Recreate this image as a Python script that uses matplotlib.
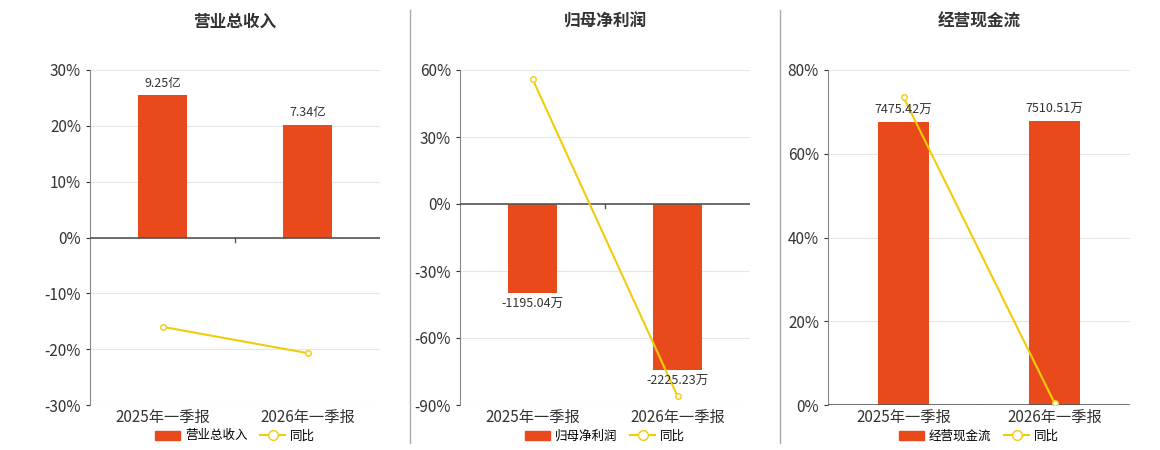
import matplotlib.pyplot as plt
from matplotlib.lines import Line2D
from matplotlib.patches import Patch
from matplotlib.ticker import FuncFormatter

plt.rcParams['font.family'] = ['Noto Sans CJK SC', 'DejaVu Sans']

categories = ['2025年一季报', '2026年一季报']
titles = ['营业总收入', '归母净利润', '经营现金流']
bar_values = [[9.25, 7.34], [-1195.04, -2225.23], [7475.42, 7510.51]]
bar_labels = [['9.25亿', '7.34亿'], ['-1195.04万', '-2225.23万'], ['7475.42万', '7510.51万']]
yoy = [[-16.0, -20.7], [56.0, -86.0], [73.5, 0.5]]
yticks = [[-30, -20, -10, 0, 10, 20, 30], [-90, -60, -30, 0, 30, 60], [0, 20, 40, 60, 80]]
# bar value that reaches the given percent gridline height
bar_scale = [25.5 / 9.25, 40.0 / 1195.04, 67.5 / 7475.42]

bar_c = '#E84A1C'
line_c = '#F2CC0C'

fig = plt.figure(figsize=(11.6, 4.5), dpi=100)
lefts = [90, 460, 828]
widths = [290, 290, 302]
for i in range(3):
    ax = fig.add_axes([lefts[i] / 1160, 45 / 450, widths[i] / 1160, 335 / 450])
    lo, hi = yticks[i][0], yticks[i][-1]
    ax.set_ylim(lo, hi)
    ax.set_xlim(-0.5, 1.5)
    ax.set_yticks(yticks[i])
    ax.yaxis.set_major_formatter(FuncFormatter(lambda v, p: f'{v:.0f}%'))
    ax.grid(axis='y', color='#e6e6e6', lw=0.8)
    ax.set_axisbelow(True)
    for s in ['top', 'right']:
        ax.spines[s].set_visible(False)
    ax.spines['bottom'].set_visible(False)
    ax.spines['left'].set_color('#888888')
    ax.tick_params(axis='y', labelsize=11, colors='#333333', length=3)
    ax.set_xticks([0, 1])
    ax.set_xticklabels(categories, fontsize=11, color='#333333')
    ax.tick_params(axis='x', length=0, pad=3)
    ax.axhline(0, color='#555555', lw=1.2, zorder=3)
    ax.plot([0.5, 0.5], [0, -(hi - lo) * 0.012], color='#555555', lw=1)
    if lo < 0 and i == 0:
        pass
    vals = [v * bar_scale[i] for v in bar_values[i]]
    ax.bar([0, 1], vals, width=0.34, color=bar_c, zorder=2)
    for x, v, t in zip([0, 1], vals, bar_labels[i]):
        off = (hi - lo) * 0.015
        ax.text(x, v + off if v >= 0 else v - off, t, ha='center',
                va='bottom' if v >= 0 else 'top', fontsize=9, color='#333333', zorder=5)
    ax.plot([0, 1], yoy[i], color=line_c, lw=1.5, marker='o', ms=4,
            mfc='white', mec=line_c, zorder=4)
    cx = (lefts[i] + widths[i] / 2) / 1160
    fig.text(cx, 1 - 22 / 450, titles[i], ha='center', va='center',
             fontsize=12, fontweight='bold', color='#333333')
    handles = [Patch(color=bar_c), Line2D([], [], color=line_c, marker='o', mfc='white', ms=7)]
    fig.legend(handles, [titles[i], '同比'], loc='center', bbox_to_anchor=(cx, 1 - 436 / 450),
               ncol=2, frameon=False, fontsize=9, handlelength=2, columnspacing=1,
               handletextpad=0.4)

for x in [410, 780]:
    fig.add_artist(Line2D([x / 1160, x / 1160], [7 / 450, 440 / 450], color='#aaaaaa', lw=1))

fig.savefig('out.png', dpi=100)
